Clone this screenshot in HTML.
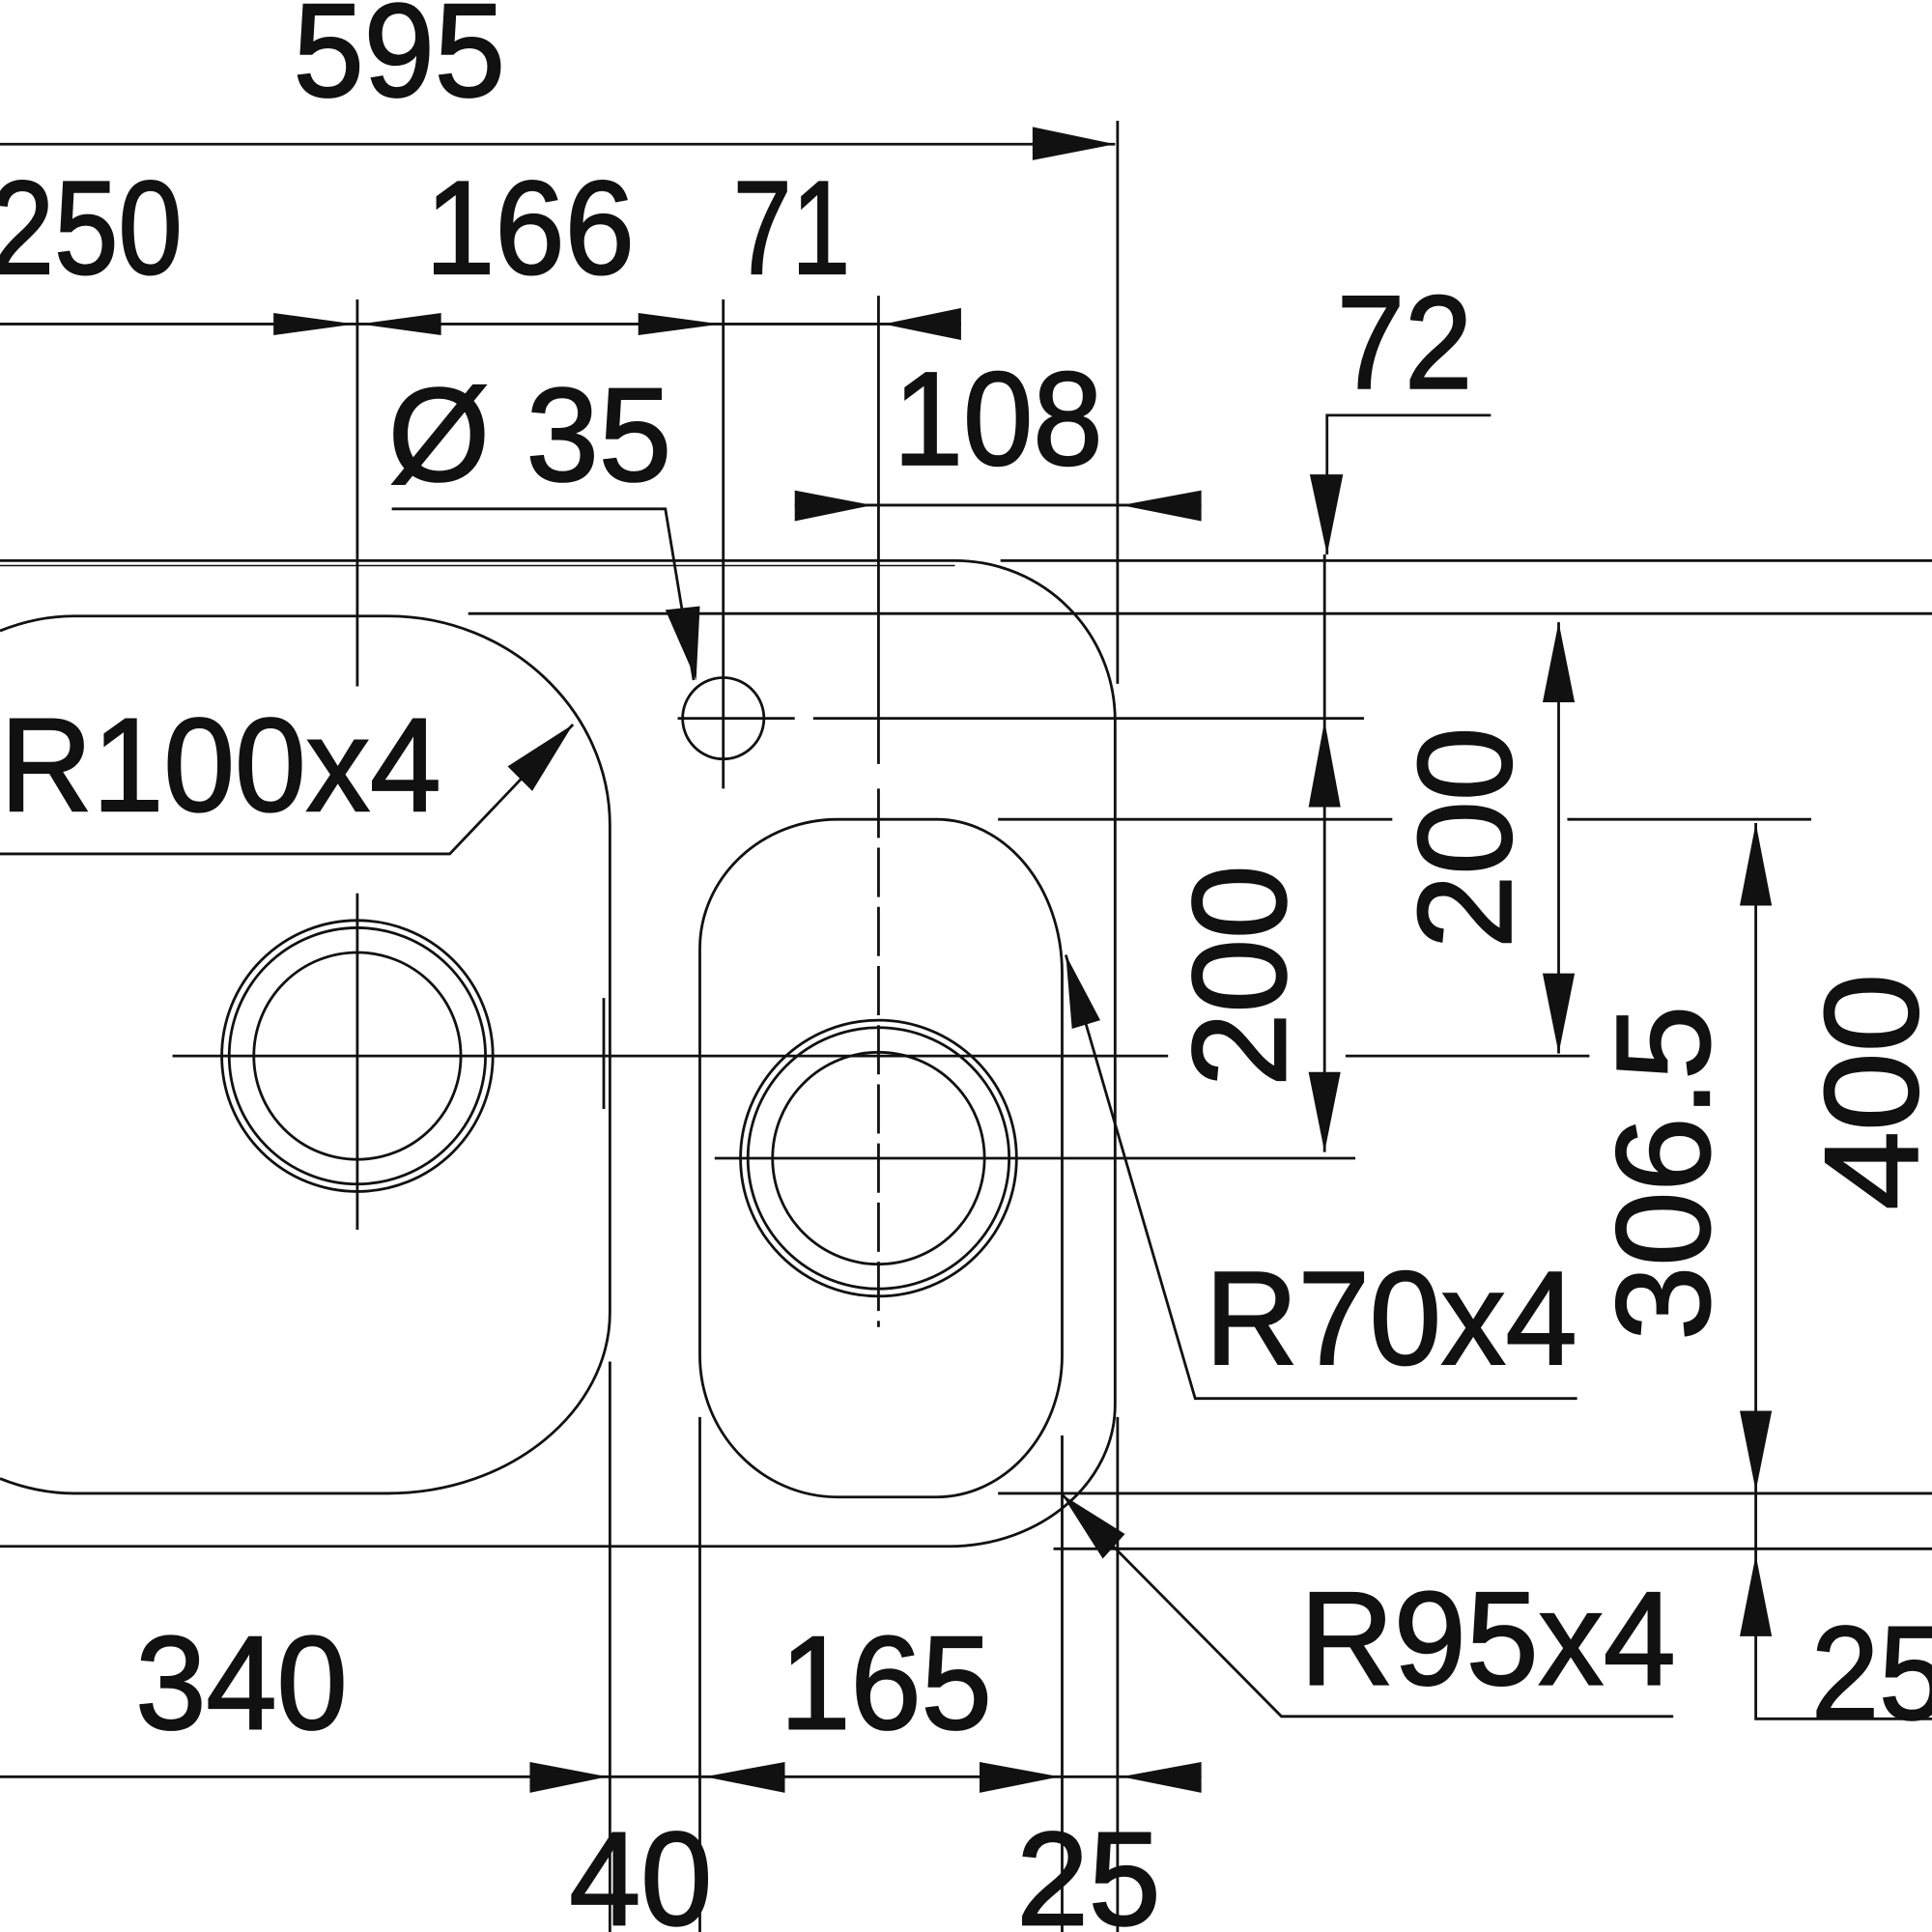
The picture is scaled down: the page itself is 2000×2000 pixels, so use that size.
<!DOCTYPE html>
<html><head><meta charset="utf-8"><style>
html,body{margin:0;padding:0;background:#fff;}
svg{display:block;}
text{font-family:"Liberation Sans",sans-serif;fill:#111;font-size:108px;stroke:#111;stroke-width:1.6;}
</style></head><body>
<svg width="2000" height="2000" viewBox="0 0 1568 1568" xmlns="http://www.w3.org/2000/svg">
<g stroke="#111" stroke-width="2.2" fill="none">
<line x1="0" y1="117" x2="905" y2="117"/>
<line x1="907" y1="98" x2="907" y2="555"/>
<line x1="0" y1="263" x2="780" y2="263"/>
<line x1="290" y1="243" x2="290" y2="557"/>
<line x1="587" y1="243" x2="587" y2="640"/>
<line x1="713" y1="240" x2="713" y2="620"/>
<polyline points="318,413 540,413 563,552"/>
<line x1="645" y1="410" x2="975" y2="410"/>
<polyline points="1210,337 1077,337 1077,450"/>
<line x1="812" y1="455" x2="1568" y2="455"/>
<line x1="380" y1="498" x2="1568" y2="498"/>
<line x1="660" y1="583" x2="1107" y2="583"/>
<line x1="810" y1="665" x2="1130" y2="665"/>
<line x1="1272" y1="665" x2="1470" y2="665"/>
<line x1="140" y1="857" x2="948" y2="857"/>
<line x1="1092" y1="857" x2="1290" y2="857"/>
<line x1="580" y1="940" x2="1100" y2="940"/>
<line x1="810" y1="1212" x2="1568" y2="1212"/>
<line x1="855" y1="1257" x2="1568" y2="1257"/>
<path d="M0,455 L775,455 C847,455 905,513 905,585 L905,1140 C905,1203 845,1255 770,1255 L0,1255"/>
<path d="M0,459 L775,459" stroke-width="1.2"/>
<path d="M0,512 Q30,500 60,500 L315,500 C414,500 495,577 495,670 L495,1065 C495,1145 414,1212 315,1212 L60,1212 Q30,1212 0,1200"/>
<line x1="490" y1="810" x2="490" y2="900"/>
<path d="M680,665 L760,665 C816,665 862,720 862,790 L862,1100 C862,1163 816,1215 760,1215 L680,1215 C618,1215 568,1163 568,1100 L568,770 C568,712 618,665 680,665 Z"/>
<circle cx="587" cy="583" r="33"/>
<line x1="550" y1="583" x2="645" y2="583"/>
<circle cx="290" cy="857" r="110"/><circle cx="290" cy="857" r="104"/><circle cx="290" cy="857" r="84"/>
<line x1="290" y1="725" x2="290" y2="998"/>
<circle cx="713" cy="940" r="112"/><circle cx="713" cy="940" r="106"/><circle cx="713" cy="940" r="86"/>
<line x1="713" y1="640" x2="713" y2="1077" stroke-dasharray="40,8"/>
<polyline points="0,693 365,693 465,588"/>
<line x1="1075" y1="450" x2="1075" y2="935"/>
<line x1="1265" y1="505" x2="1265" y2="855"/>
<polyline points="1425,668 1425,1395 1568,1395"/>
<polyline points="1280,1135 970,1135 865,775"/>
<polyline points="1358,1393 1040,1393 862,1213"/>
<line x1="0" y1="1442" x2="975" y2="1442"/>
<line x1="495" y1="1105" x2="495" y2="1568"/>
<line x1="568" y1="1150" x2="568" y2="1568"/>
<line x1="862" y1="1165" x2="862" y2="1568"/>
<line x1="907" y1="1150" x2="907" y2="1568"/>
</g>
<g fill="#111">
<polygon points="838,103 905,117 838,130"/>
<polygon points="222,254 288,263 222,272"/>
<polygon points="358,254 292,263 358,272"/>
<polygon points="518,254 585,263 518,272"/>
<polygon points="780,250 717,263 780,276"/>
<polygon points="645,398 708,410 645,423"/>
<polygon points="975,398 910,410 975,423"/>
<polygon points="1063,385 1077,450 1090,385"/>
<polygon points="540,495 565,552 568,492"/>
<polygon points="465,588 412,622 432,642"/>
<polygon points="1062,655 1075,585 1088,655"/>
<polygon points="1062,870 1075,935 1088,870"/>
<polygon points="1252,570 1265,505 1278,570"/>
<polygon points="1252,790 1265,855 1278,790"/>
<polygon points="1412,735 1425,668 1438,735"/>
<polygon points="1412,1145 1425,1210 1438,1145"/>
<polygon points="1412,1328 1425,1262 1438,1328"/>
<polygon points="865,775 870,835 893,828"/>
<polygon points="862,1213 895,1265 913,1245"/>
<polygon points="430,1430 493,1442 430,1455"/>
<polygon points="637,1430 572,1442 637,1455"/>
<polygon points="795,1430 860,1442 795,1455"/>
<polygon points="975,1430 910,1442 975,1455"/>
</g>
<g>
<text x="238" y="78" textLength="172" lengthAdjust="spacingAndGlyphs">595</text>
<text x="-8" y="222" textLength="156" lengthAdjust="spacingAndGlyphs">250</text>
<text x="345" y="222" textLength="170" lengthAdjust="spacingAndGlyphs">166</text>
<text x="595" y="222" textLength="95" lengthAdjust="spacingAndGlyphs">71</text>
<text x="315" y="390" textLength="230" lengthAdjust="spacingAndGlyphs">Ø 35</text>
<text x="725" y="377" textLength="170" lengthAdjust="spacingAndGlyphs">108</text>
<text x="1085" y="315" textLength="110" lengthAdjust="spacingAndGlyphs">72</text>
<text x="0" y="658" textLength="358" lengthAdjust="spacingAndGlyphs">R100x4</text>
<text x="978" y="1107" textLength="302" lengthAdjust="spacingAndGlyphs">R70x4</text>
<text x="1055" y="1367" textLength="305" lengthAdjust="spacingAndGlyphs">R95x4</text>
<text x="110" y="1403" textLength="172" lengthAdjust="spacingAndGlyphs">340</text>
<text x="633" y="1403" textLength="172" lengthAdjust="spacingAndGlyphs">165</text>
<text x="462" y="1562" textLength="116" lengthAdjust="spacingAndGlyphs">40</text>
<text x="825" y="1562" textLength="117" lengthAdjust="spacingAndGlyphs">25</text>
<text x="1470" y="1395" textLength="110" lengthAdjust="spacingAndGlyphs">25</text>
<text transform="translate(1043,882) rotate(-90)" textLength="180" lengthAdjust="spacingAndGlyphs">200</text>
<text transform="translate(1226,770) rotate(-90)" textLength="180" lengthAdjust="spacingAndGlyphs">200</text>
<text transform="translate(1387,1088) rotate(-90)" textLength="272" lengthAdjust="spacingAndGlyphs">306.5</text>
<text transform="translate(1556,982) rotate(-90)" textLength="192" lengthAdjust="spacingAndGlyphs">400</text>
</g>
</svg>
</body></html>
